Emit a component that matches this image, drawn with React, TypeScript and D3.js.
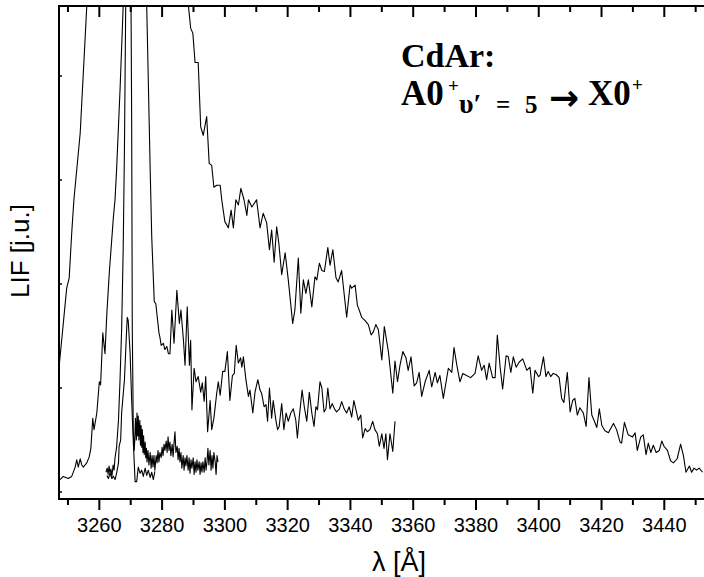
import React from "react";
import * as d3 from "d3";

type P = [number, number];

// wavelength [Å], intensity [arb. units]
const curveLong: P[] = [
  [3247.3,124],[3249.6,196],[3250.4,206],[3251.2,249],[3251.9,281],[3253.9,345],[3256.0,467],[3257,540],[3262,800],[3270,950],[3278,850],[3284,650],[3287.5,500],[3288.4,467],[3289.1,446],[3289.8,441],[3290.5,413],[3291.5,413],[3292.3,351],[3293.1,343],[3294.2,361],[3295.0,316],[3295.8,314],[3296.5,293],[3297.4,295],[3298.5,295],[3299.0,281],[3300.0,260],[3301.1,254],[3302.0,271],[3302.7,254],[3303.5,281],[3304.3,276],[3305.1,292],[3306.1,281],[3307.0,266],[3307.5,281],[3308.6,274],[3310.1,281],[3311.2,254],[3312.2,268],[3313.3,259],[3314.2,233],[3314.9,252],[3315.7,221],[3316.5,255],[3317.2,239],[3318.1,209],[3319.2,230],[3320.2,204],[3321.6,162],[3322.3,175],[3323.4,225],[3324.2,172],[3325.0,204],[3325.8,191],[3326.6,204],[3327.7,178],[3328.7,207],[3329.3,204],[3330.1,220],[3330.9,213],[3331.7,212],[3332.8,235],[3333.5,218],[3334.4,233],[3335.4,206],[3336.1,202],[3337.2,213],[3338.8,168],[3339.9,199],[3340.4,196],[3341.5,199],[3342.2,180],[3343.6,168],[3344.6,165],[3345.7,161],[3346.6,151],[3347.3,154],[3348.1,161],[3348.9,156],[3350.0,127],[3350.8,159],[3352.1,135],[3353.5,95],[3354.2,126],[3355.0,106],[3355.8,122],[3356.7,135],[3357.7,129],[3358.4,117],[3359.3,130],[3360.3,102],[3361.1,105],[3361.9,115],[3362.7,92],[3363.8,106],[3365.1,117],[3365.9,101],[3367.0,115],[3367.7,105],[3368.5,112],[3369.6,90],[3371.2,119],[3372.3,115],[3373.0,139],[3373.9,122],[3374.9,106],[3375.8,114],[3377.0,112],[3378.3,110],[3379.7,114],[3380.7,131],[3381.8,117],[3382.6,122],[3383.4,108],[3384.2,124],[3385.3,110],[3386.1,110],[3386.8,151],[3387.7,120],[3388.5,99],[3389.6,131],[3390.3,130],[3391.1,115],[3391.9,130],[3392.8,120],[3393.8,125],[3394.9,128],[3396.2,117],[3397.2,120],[3398.1,95],[3398.8,117],[3399.9,111],[3400.4,112],[3401.5,130],[3402.3,111],[3403.0,116],[3403.8,111],[3404.6,114],[3405.5,113],[3406.5,110],[3407.3,90],[3408.0,86],[3409.1,115],[3410.0,77],[3410.8,88],[3411.5,90],[3412.3,74],[3413.1,81],[3414.2,76],[3415.1,63],[3416.0,110],[3416.9,74],[3417.6,69],[3418.5,62],[3419.3,80],[3420.1,64],[3421.1,59],[3422.2,57],[3423.8,66],[3424.8,60],[3425.9,48],[3426.4,47],[3427.3,67],[3428.5,55],[3429.9,53],[3430.7,57],[3431.4,40],[3432.5,53],[3433.3,55],[3434.2,36],[3434.9,47],[3435.7,38],[3436.5,45],[3437.4,38],[3438.4,40],[3439.2,49],[3439.9,44],[3441.0,40],[3442.0,30],[3442.9,28],[3444.1,32],[3445.2,46],[3446.1,35],[3446.9,19],[3448.0,25],[3448.7,19],[3449.5,23],[3450.3,21],[3451.1,23],[3452.2,19]
];

const curveMid: P[] = [
  [3247.5,12],[3248.5,15],[3250.1,13],[3251.2,15],[3252.3,24],[3252.8,31],[3253.3,24],[3253.9,32],[3254.4,26],[3254.9,24],[3256.0,28],[3256.8,34],[3257.3,42],[3257.9,71],[3258.3,60],[3259.2,76],[3260.0,106],[3260.4,103],[3261.1,153],[3261.8,133],[3262.4,172],[3263.2,212],[3264.5,265],[3265.0,281],[3265.5,310],[3266.6,387],[3267.6,467],[3268.5,620],[3270.5,720],[3272.5,680],[3274.2,540],[3275.1,467],[3276.2,310],[3276.7,245],[3277.5,183],[3278.0,181],[3279.0,153],[3279.3,149],[3279.7,141],[3280.4,143],[3280.9,137],[3281.5,140],[3282.0,133],[3282.5,133],[3283.1,175],[3283.8,143],[3284.7,194],[3285.5,162],[3286.0,175],[3286.8,146],[3287.3,122],[3288.0,178],[3288.7,122],[3289.1,146],[3289.5,79],[3290.2,119],[3290.8,106],[3291.5,111],[3292.3,96],[3292.8,105],[3293.4,87],[3293.9,111],[3294.5,58],[3295.3,88],[3295.8,60],[3296.5,71],[3297.4,95],[3297.9,106],[3298.5,93],[3299.3,116],[3300.0,116],[3300.8,135],[3301.6,88],[3302.4,112],[3303.0,114],[3303.6,141],[3304.3,124],[3305.0,129],[3305.4,120],[3305.9,130],[3306.7,108],[3307.5,92],[3308.0,98],[3308.9,76],[3309.6,96],[3310.5,108],[3311.2,98],[3311.7,95],[3312.5,82],[3313.1,84],[3313.6,68],[3314.2,100],[3314.9,71],[3315.4,88],[3316.3,68],[3316.8,60],[3317.3,63],[3318.1,85],[3318.8,60],[3319.5,76],[3320.2,68],[3321.0,76],[3321.8,80],[3322.6,69],[3323.1,52],[3323.7,72],[3324.6,98],[3325.3,82],[3326.1,68],[3326.9,96],[3327.7,76],[3328.4,63],[3329.0,82],[3329.5,79],[3330.3,106],[3330.9,100],[3331.6,77],[3332.2,80],[3332.8,100],[3333.5,80],[3334.2,85],[3334.9,80],[3335.6,77],[3336.5,80],[3337.2,87],[3338.0,80],[3338.8,76],[3339.6,82],[3340.4,72],[3341.1,88],[3342.0,76],[3342.5,69],[3343.3,74],[3343.9,52],[3344.7,61],[3345.4,58],[3346.2,60],[3347.1,68],[3347.8,60],[3348.6,56],[3349.2,44],[3350.0,56],[3350.7,42],[3351.3,56],[3351.8,31],[3352.6,56],[3353.5,39],[3354.2,68]
];

const curveDense: P[] = [
  [3262.1,19],[3262.5,23],[3262.8,17],[3263.1,25],[3263.4,18],[3263.7,22],[3264.0,15],[3264.4,26],[3264.7,21],[3265.0,33],[3265.5,43],[3266.1,69],[3266.6,108],[3267.1,156],[3267.6,233],[3268.0,329],[3268.4,467],[3269.2,800],[3270.1,467],[3270.3,358],[3270.5,156],[3270.7,98],[3270.8,60],[3271.1,40],[3271.3,50],[3271.5,71],[3271.8,50],[3272.0,76],[3272.2,54],[3272.4,73],[3272.6,50],[3272.9,69],[3273.1,45],[3273.3,64],[3273.5,43],[3273.7,60],[3273.9,38],[3274.1,54],[3274.3,36],[3274.6,48],[3274.8,33],[3275.0,42],[3275.2,29],[3275.5,40],[3275.8,26],[3276.2,38],[3276.5,23],[3276.8,35],[3277.1,24],[3277.4,35],[3277.7,21],[3278.1,35],[3278.4,28],[3278.7,40],[3279.0,29],[3279.3,38],[3279.7,33],[3280.0,43],[3280.3,35],[3280.6,46],[3280.9,40],[3281.3,49],[3281.6,38],[3281.9,53],[3282.2,40],[3282.5,48],[3282.8,35],[3283.2,46],[3283.5,34],[3283.8,47],[3284.1,58],[3284.4,38],[3284.8,44],[3285.1,31],[3285.4,42],[3285.7,29],[3286.0,38],[3286.3,23],[3286.7,35],[3287.0,21],[3287.3,33],[3287.6,25],[3287.9,35],[3288.3,21],[3288.6,33],[3288.9,18],[3289.2,31],[3289.5,23],[3289.9,33],[3290.2,17],[3290.5,29],[3290.8,19],[3291.1,31],[3291.4,21],[3291.8,29],[3292.1,17],[3292.4,28],[3292.7,19],[3293.0,29],[3293.4,19],[3293.7,33],[3294.0,21],[3294.3,29],[3294.6,42],[3294.9,26],[3295.3,40],[3295.6,21],[3295.9,35],[3296.2,23],[3296.5,38],[3296.9,29],[3297.2,17],[3297.5,35],[3297.8,29]
];

const curveNarrow: P[] = [
  [3262.4,16],[3262.9,13],[3263.4,18],[3264.0,13],[3264.5,15],[3265.0,12],[3265.5,18],[3266.1,28],[3266.3,44],[3266.8,50],[3267.1,76],[3268.0,108],[3268.7,156],[3268.9,168],[3269.2,165],[3269.8,134],[3270.3,88],[3270.8,50],[3271.4,10],[3271.9,10],[3272.4,24],[3273.0,18],[3273.5,21],[3274.0,15],[3274.6,23],[3275.1,16],[3275.6,21],[3276.2,14],[3276.7,19],[3277.2,12],[3277.7,20]
];

const xMajorTicks = [3260, 3280, 3300, 3320, 3340, 3360, 3380, 3400, 3420, 3440];
const xMinorTicks = [3250, 3270, 3290, 3310, 3330, 3350, 3370, 3390, 3410, 3430, 3450];
const yTicks = [0, 100, 200, 300, 400];

const xLabel = "λ [Å]";
const yLabel = "LIF [j.u.]";

export default function App() {
  const L = 59, R = 704, T = 6, B = 499;
  const x = d3.scaleLinear().domain([3247.15, 3452.65]).range([L, R]);
  const y = d3.scaleLinear().domain([-6.7, 467.3]).range([B, T]);
  const line = d3.line<P>().x(d => x(d[0])).y(d => y(d[1]));
  const sans = "'Liberation Sans', Arial, Helvetica, sans-serif";
  const serif = "'Liberation Serif', 'Times New Roman', Times, serif";
  const curves = [curveLong, curveMid, curveDense, curveNarrow];

  return (
    <svg width={704} height={577} style={{ position: "absolute", left: 0, top: 0, background: "#fff" }}>
      <defs>
        <clipPath id="plot">
          <rect x={L} y={T} width={R - L} height={B - T} />
        </clipPath>
      </defs>
      <rect x={0} y={0} width={704} height={577} fill="#fff" />
      <g clipPath="url(#plot)">
        {curves.map((c, i) => (
          <path key={i} d={line(c) || ""} fill="none" stroke="#000" strokeWidth={1.1} strokeLinejoin="round" />
        ))}
      </g>
      {/* axes frame */}
      <line x1={L} x2={R} y1={B} y2={B} stroke="#000" strokeWidth={2} />
      <line x1={L} x2={R} y1={T} y2={T} stroke="#000" strokeWidth={2} />
      <line x1={L} x2={L} y1={T - 1} y2={B + 1} stroke="#000" strokeWidth={2} />
      {xMajorTicks.map(t => (
        <g key={"M" + t}>
          <line x1={x(t)} x2={x(t)} y1={B} y2={B + 11} stroke="#000" strokeWidth={2} />
          <line x1={x(t)} x2={x(t)} y1={T} y2={T + 11} stroke="#000" strokeWidth={2} />
          <text x={x(t)} y={532} textAnchor="middle" fontFamily={sans} fontSize={20} fill="#000">{t}</text>
        </g>
      ))}
      {xMinorTicks.map(t => (
        <g key={"m" + t}>
          <line x1={x(t)} x2={x(t)} y1={B} y2={B + 6} stroke="#000" strokeWidth={2} />
          <line x1={x(t)} x2={x(t)} y1={T} y2={T + 6} stroke="#000" strokeWidth={2} />
        </g>
      ))}
      {yTicks.map(t => (
        <line key={"y" + t} x1={L} x2={L + 3} y1={y(t)} y2={y(t)} stroke="#000" strokeWidth={1.5} />
      ))}
      <text x={399} y={571} textAnchor="middle" fontFamily={sans} fontSize={27} fill="#000">{xLabel}</text>
      <text transform="translate(29,251) rotate(-90)" textAnchor="middle" fontFamily={sans} fontSize={26} fill="#000">{yLabel}</text>
      {/* annotation */}
      <g fontFamily={serif} fontWeight="bold" fill="#000">
        <text x={401} y={67} fontSize={34}>CdAr:</text>
        <text x={401} y={105} fontSize={35}>A0</text>
        <text x={448} y={92} fontSize={19}>+</text>
        <text x={459} y={113} fontSize={28}>υ′</text>
        <text x={496} y={113} fontSize={25}>=</text>
        <text x={525} y={113} fontSize={25}>5</text>
        <text x={549} y={110} fontSize={36} fontFamily="'DejaVu Sans', sans-serif">→</text>
        <text x={588} y={105} fontSize={35}>X0</text>
        <text x={632} y={91} fontSize={19}>+</text>
      </g>
    </svg>
  );
}
